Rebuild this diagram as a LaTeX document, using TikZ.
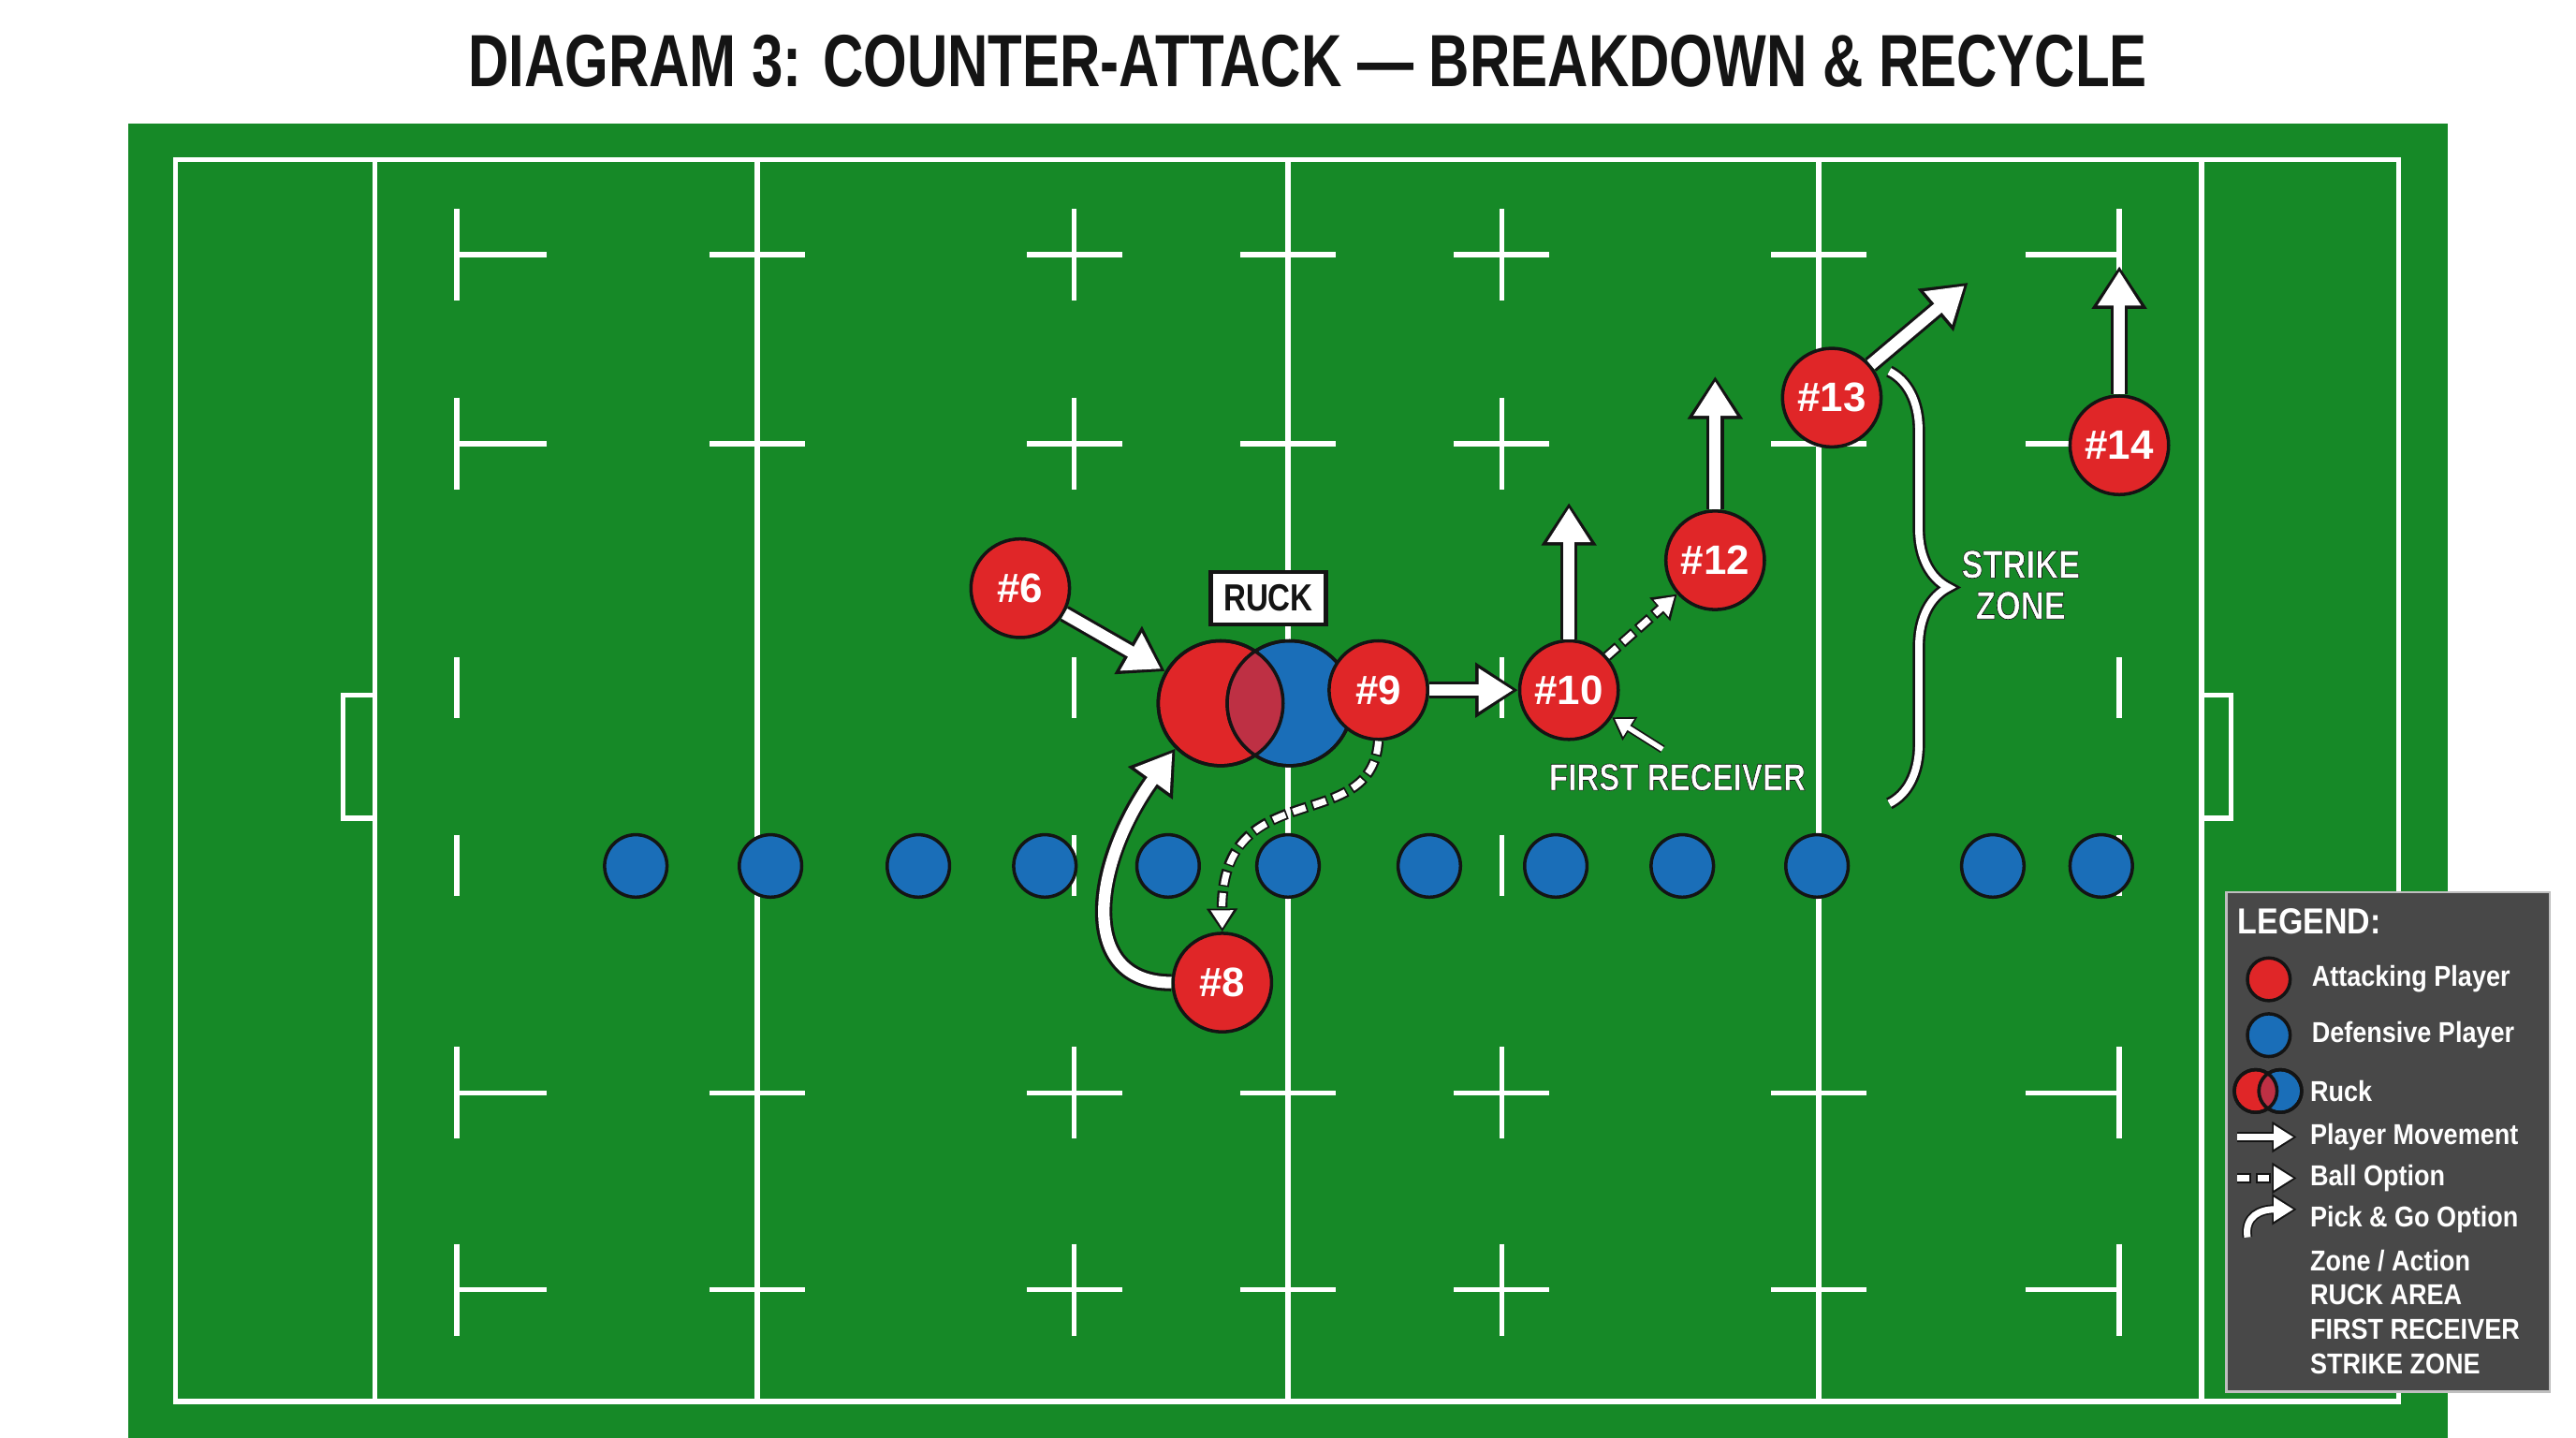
\documentclass[tikz,border=0pt]{standalone}
\usepackage{fontspec}
\setmainfont{Liberation Sans}
\newfontfamily\titlefont[FakeStretch=0.76]{Liberation Sans}
\newfontfamily\labelfont[FakeStretch=0.82]{Liberation Sans}
\newfontfamily\legendfont[FakeStretch=0.88]{Liberation Sans}
\usetikzlibrary{arrows.meta,decorations.pathreplacing,positioning}

\definecolor{pitch}{RGB}{22,137,39}
\definecolor{attack}{RGB}{224,38,40}
\definecolor{defend}{RGB}{26,110,184}
\definecolor{overlap}{RGB}{190,48,68}
\definecolor{legendbg}{RGB}{72,72,72}
\definecolor{ink}{RGB}{20,20,20}

% white text with a dark rim
\newcommand{\outlined}[1]{\special{pdf:literal direct 2 Tr 0.35 w 0.08 0.08 0.08 RG}#1\special{pdf:literal direct 0 Tr}}

\tikzset{
  attacker/.style = {draw=ink, circle, line width=2pt, fill=attack, minimum size=60pt, inner sep=0pt, text=white, font=\bfseries\fontsize{25}{25}\selectfont},
  defender/.style = {draw=ink, circle, line width=2pt, fill=defend, minimum size=38pt, inner sep=0pt},
  ruckball/.style = {draw=ink, circle, line width=2pt, minimum size=76pt, inner sep=0pt},
  fieldline/.style = {white, line width=3pt},
  move/.style = {white, line width=7pt, shorten >=3pt, -{Triangle[length=21pt,width=25pt]},
    preaction={draw=ink, line width=10.5pt, shorten >=0pt, -{Triangle[length=26pt,width=32pt]}}},
  ballopt/.style = {white, line width=4pt, shorten >=2pt, dash pattern=on 8pt off 5pt, -{Triangle[length=11pt,width=13pt]},
    preaction={draw=ink, line width=6.5pt, shorten >=0pt, dash pattern=on 10pt off 3pt, dash phase=1pt, -{Triangle[length=14pt,width=18pt]}}},
  pointer/.style = {white, line width=3pt, shorten >=2pt, -{Triangle[length=10pt,width=12pt]},
    preaction={draw=ink, line width=5pt, shorten >=0pt, -{Triangle[length=13pt,width=16pt]}}},
  tag/.style = {white, inner sep=0pt, align=center, font=\labelfont\bfseries\fontsize{23}{25}\selectfont},
  legtext/.style = {white, anchor=west, inner sep=0pt, font=\legendfont\bfseries\fontsize{17.5}{17.5}\selectfont},
}

\begin{document}
\begin{tikzpicture}[x=1pt, y=-1pt]
\useasboundingbox (0,0) rectangle (1568,875);

% title
\node[text=ink, font=\titlefont\bfseries\fontsize{45}{45}\selectfont] (title) at (796,37) {DIAGRAM 3: COUNTER-ATTACK — BREAKDOWN \& RECYCLE};

% pitch
\fill[pitch] (78,75) rectangle (1490,875);
\draw[fieldline] (107,97) rectangle (1460,853);
\foreach \x in {228,461,784,1107,1340}
  \draw[fieldline] (\x,97) -- (\x,853);
\draw[fieldline] (228,423) -- (209,423) -- (209,498) -- (228,498);
\draw[fieldline] (1340,423) -- (1358,423) -- (1358,498) -- (1340,498);
\foreach \y in {155,270,665,785} {
  \draw[fieldline] (278,\y-28) -- (278,\y+28) (278,\y) -- (333,\y);
  \draw[fieldline] (432,\y) -- (490,\y);
  \draw[fieldline] (625,\y) -- (683,\y) (654,\y-28) -- (654,\y+28);
  \draw[fieldline] (755,\y) -- (813,\y);
  \draw[fieldline] (885,\y) -- (943,\y) (914,\y-28) -- (914,\y+28);
  \draw[fieldline] (1078,\y) -- (1136,\y);
  \draw[fieldline] (1233,\y) -- (1290,\y) (1290,\y-28) -- (1290,\y+28);
}
\foreach \x in {278,654,914,1290}
  \draw[fieldline] (\x,400) -- (\x,437) (\x,508) -- (\x,545);

% defensive line
\foreach \x [count=\i] in {387,469,559,636,711,784,870,947,1024,1106,1213,1279}
  \node[defender] (d\i) at (\x,527) {};

% ruck
\node[ruckball, fill=attack] (ruckA) at (743,428) {};
\node[ruckball, fill=defend] (ruckB) at (785,428) {};
\begin{scope}
  \clip (ruckA.center) circle (38);
  \fill[overlap] (ruckB.center) circle (38);
\end{scope}
\draw[ink, line width=2pt] (ruckA.center) circle (38) (ruckB.center) circle (38);
\node[draw=ink, fill=white, line width=2.5pt, minimum width=70pt, minimum height=32pt, inner sep=0pt, text=ink, font=\labelfont\bfseries\fontsize{23}{23}\selectfont] (rucklabel) at (772,364) {RUCK};

% attackers
\node[attacker] (p6) at (621,358) {\#6};
\node[attacker] (p9) at (839,420) {\#9};
\node[attacker] (p10) at (955,420) {\#10};
\node[attacker] (p12) at (1044,341) {\#12};
\node[attacker] (p13) at (1115,242) {\#13};
\node[attacker] (p14) at (1290,271) {\#14};
\node[attacker] (p8) at (744,598) {\#8};

% runs
\coordinate (run10) at (955,306);
\coordinate (run12) at (1044,229);
\coordinate (run13) at (1198,172);
\coordinate (run14) at (1290,162);
\draw[move] (p6) -- (ruckA);
\draw[move] (p9) -- (p10);
\draw[move] (p10) -- (run10);
\draw[move] (p12) -- (run12);
\draw[move] (p13) -- (run13);
\draw[move] (p14) -- (run14);
\draw[move] (p8.west) .. controls (655,598) and (665,525) .. (ruckA.225);

% ball options
\draw[ballopt] (p10) -- (p12);
\draw[ballopt] (p9.south) .. controls (835,510) and (743,470) .. (p8.north);

% labels
\node[tag] (first) at (1021,473) {\outlined{FIRST RECEIVER}};
\coordinate (firsttail) at (1012,456);
\draw[pointer] (firsttail) -- (p10);
\draw[white, double=white, draw=ink, line width=1.5pt, double distance=4.5pt, decorate, decoration={brace, amplitude=36pt}] (1150,226) -- (1150,489);
\node[tag, font=\labelfont\bfseries\fontsize{24}{25}\selectfont] (strike) at (1230,356) {\outlined{STRIKE}\\\outlined{ZONE}};

% legend
\draw[fill=legendbg, draw=gray!50, line width=1.5pt] (1355,543) rectangle (1552,847);
\node[white, anchor=west, inner sep=0pt, font=\legendfont\bfseries\fontsize{22}{22}\selectfont] (leghead) at (1362,561) {LEGEND:};
\node[attacker, minimum size=26pt] (legatk) at (1381,596) {};
\node[defender, minimum size=26pt] (legdef) at (1381,630) {};
\node[legtext, right=12pt of legatk] (txtatk) {Attacking Player};
\node[legtext, right=12pt of legdef] (txtdef) {Defensive Player};
\node[ruckball, fill=attack, minimum size=26pt] (legra) at (1373,664) {};
\node[ruckball, fill=defend, minimum size=26pt] (legrb) at (1388,664) {};
\begin{scope}
  \clip (legra.center) circle (13);
  \fill[overlap] (legrb.center) circle (13);
\end{scope}
\draw[ink, line width=2pt] (legra.center) circle (13) (legrb.center) circle (13);
\node[legtext] (txtruck) at (1406,664) {Ruck};
\coordinate (lm1) at (1362,692); \coordinate (lm2) at (1398,692);
\coordinate (lb1) at (1362,717); \coordinate (lb2) at (1398,717);
\coordinate (lp1) at (1368,753); \coordinate (lp2) at (1398,736);
\draw[white, line width=4pt, shorten >=2pt, -{Triangle[length=12pt,width=14pt]}, preaction={draw=ink, line width=6pt, shorten >=0pt, -{Triangle[length=15pt,width=18pt]}}] (lm1) -- (lm2);
\draw[white, line width=4pt, shorten >=2pt, dash pattern=on 7pt off 5pt, -{Triangle[length=12pt,width=14pt]}, preaction={draw=ink, line width=6pt, shorten >=0pt, dash pattern=on 9pt off 3pt, dash phase=1pt, -{Triangle[length=15pt,width=18pt]}}] (lb1) -- (lb2);
\draw[white, line width=4pt, shorten >=2pt, -{Triangle[length=12pt,width=14pt]}, preaction={draw=ink, line width=6pt, shorten >=0pt, -{Triangle[length=15pt,width=18pt]}}] (lp1) .. controls (1366,740) and (1376,736) .. (lp2);
\node[legtext] (txtmove) at (1406,692) {Player Movement};
\node[legtext] (txtball) at (1406,717) {Ball Option};
\node[legtext] (txtpick) at (1406,742) {Pick \& Go Option};
\node[legtext] (txtzone) at (1406,767) {Zone / Action};
\node[legtext] (txtarea) at (1406,788) {RUCK AREA};
\node[legtext] (txtfirst) at (1406,809) {FIRST RECEIVER};
\node[legtext] (txtstrike) at (1406,830) {STRIKE ZONE};
\end{tikzpicture}
\end{document}
